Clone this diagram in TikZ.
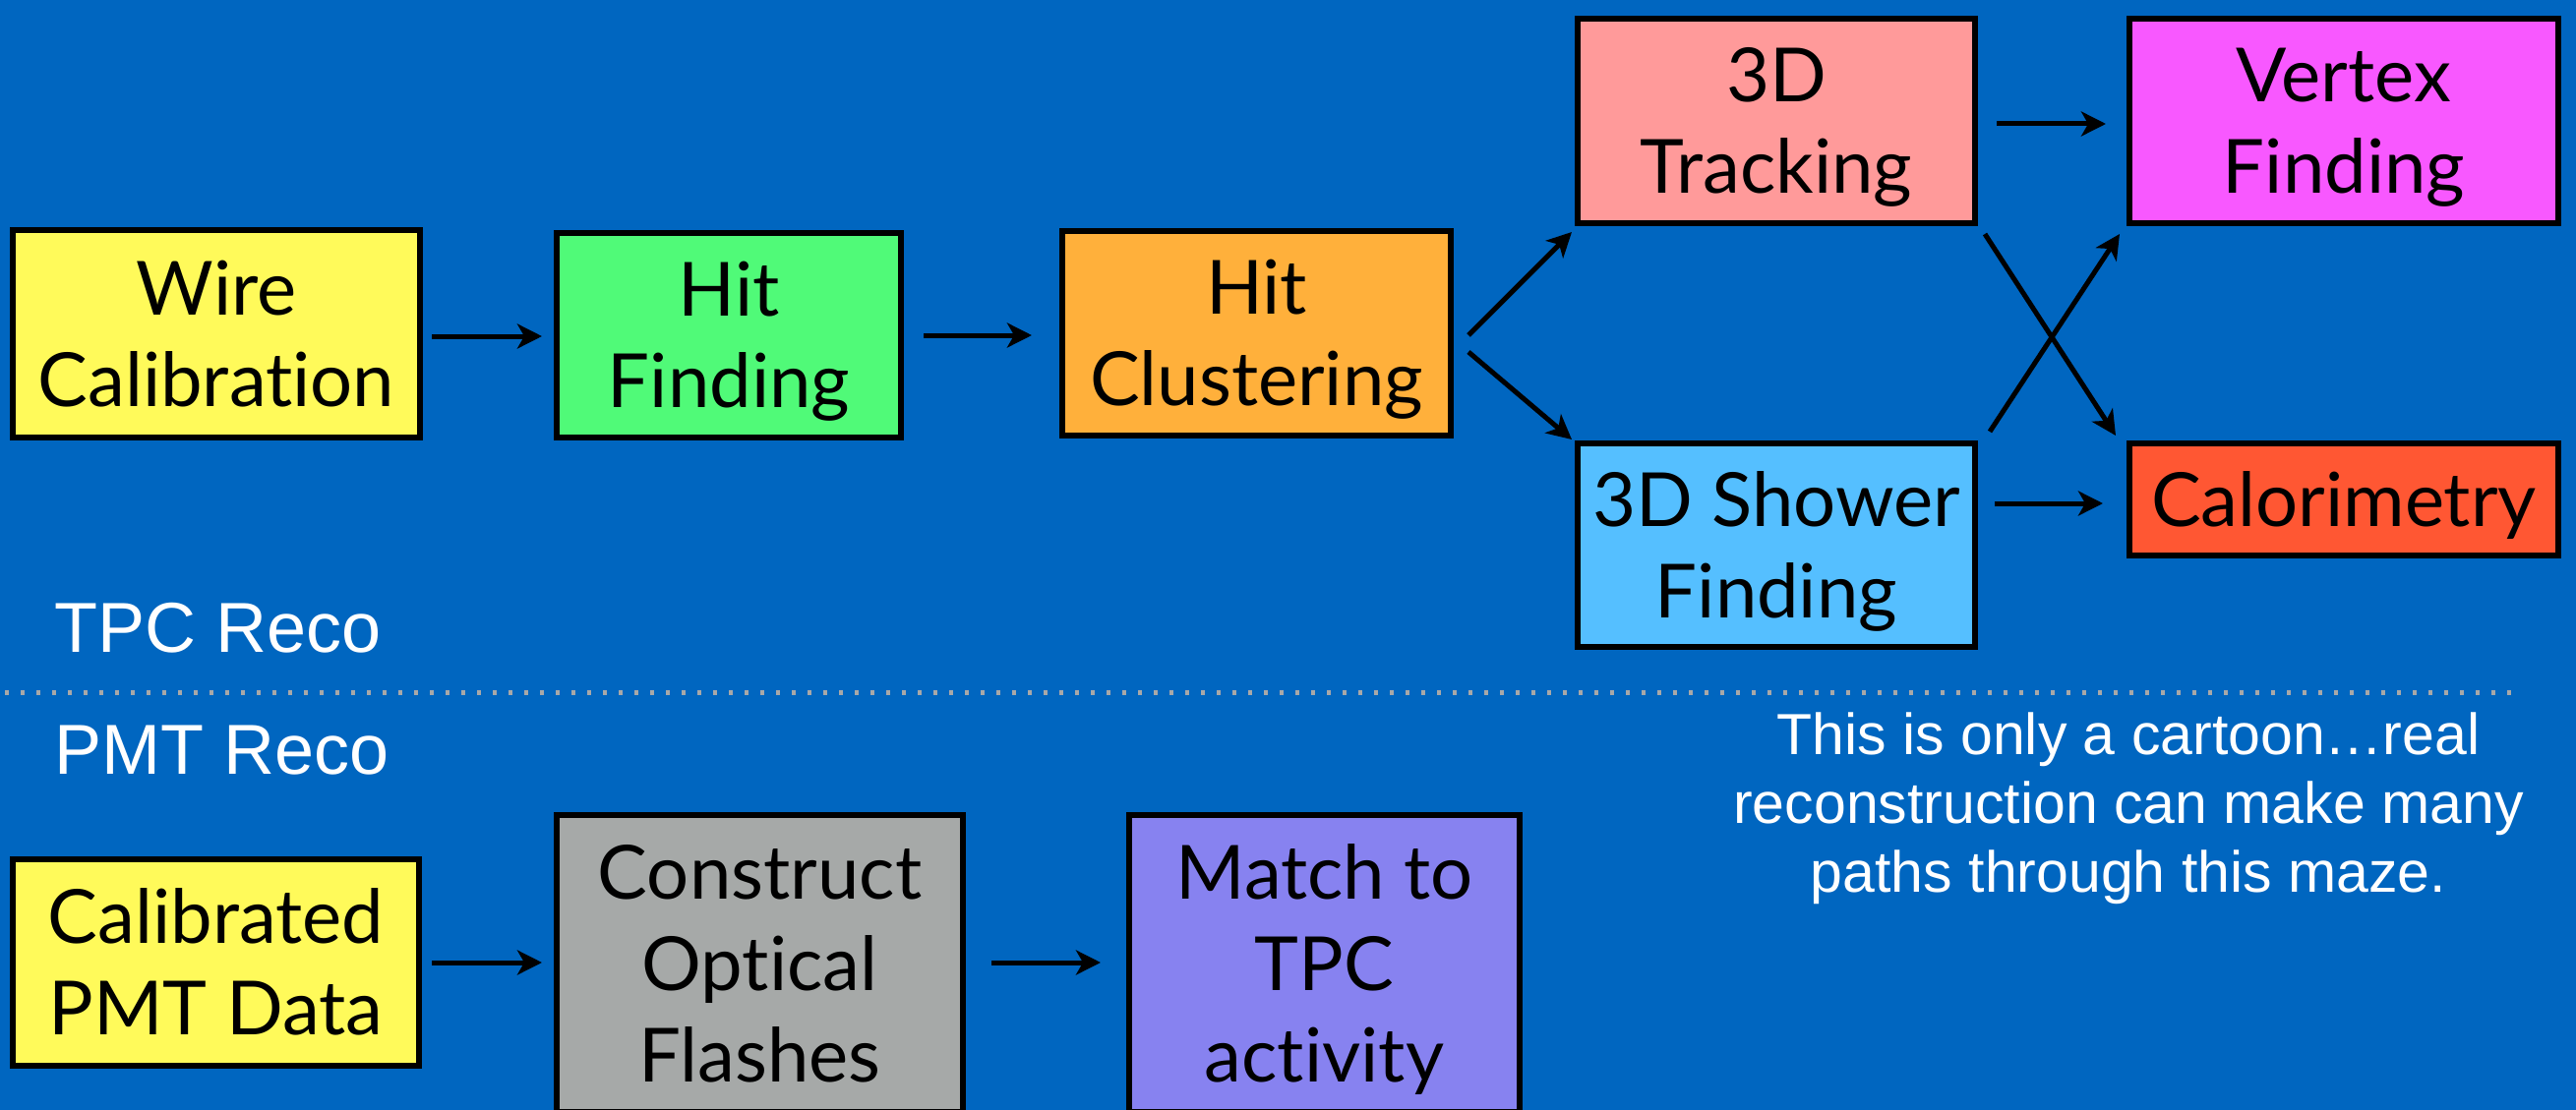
\documentclass[tikz,border=0pt]{standalone}
\usepackage{fontspec}
\setmainfont{Lato}[Ligatures={NoCommon,NoRare,NoContextual}]
\newfontfamily\wfont{Liberation Sans}
\usetikzlibrary{arrows.meta,calc}
\definecolor{bgblue}{HTML}{0066C0}
\definecolor{cyellow}{HTML}{FFFA5A}
\definecolor{cgreen}{HTML}{50FA78}
\definecolor{corange}{HTML}{FFB03B}
\definecolor{cpink}{HTML}{FF9A9A}
\definecolor{cmagenta}{HTML}{F858FF}
\definecolor{clblue}{HTML}{55BFFF}
\definecolor{cred}{HTML}{FF5733}
\definecolor{cgray}{HTML}{A6A9A8}
\definecolor{cpurple}{HTML}{8782F0}
\definecolor{dotgray}{HTML}{A8A8A8}
\newcommand{\tS}{\rule{0pt}{77pt}}
\newcommand{\bS}{\rule[-23pt]{0pt}{23pt}}
\begin{document}
\begin{tikzpicture}[x=1pt,y=-1pt,
  box/.style={draw=black,line width=6pt,inner sep=0pt,align=center,
    font=\fontsize{76}{93}\selectfont,text=black},
  arr/.style={line width=5pt,-{Stealth[length=25pt,width=25pt,inset=7pt]}},
  wtext/.style={text=white,inner sep=0pt}]
\fill[bgblue] (0,0) rectangle (2619,1129);
\useasboundingbox (0,0) rectangle (2619,1129);

% TPC row
\node[box,fill=cyellow,minimum width=414pt,minimum height=211pt] (wire) at (220,339.5) {\tS Wire\\Calibration\bS};
\node[box,fill=cgreen,minimum width=350pt,minimum height=208pt] (hitf) at (741,341) {\tS Hit\\Finding\bS};
\node[box,fill=corange,minimum width=395pt,minimum height=208pt] (hitc) at (1277.5,339) {\tS Hit\\Clustering\bS};
\node[box,fill=cpink,minimum width=404pt,minimum height=208pt] (trk) at (1806,123) {\tS 3D\\Tracking\bS};
\node[box,fill=cmagenta,minimum width=436pt,minimum height=208pt] (vtx) at (2383,123) {\tS Vertex\\Finding\bS};
\node[box,fill=clblue,minimum width=404pt,minimum height=207pt] (shw) at (1806,554.5) {\tS 3D Shower\\Finding\bS};
\node[box,fill=cred,minimum width=436pt,minimum height=114pt] (cal) at (2383,508) {\tS Calorimetry\bS};

% PMT row
\node[box,fill=cyellow,minimum width=413pt,minimum height=210pt] (cpd) at (219.5,979) {\tS Calibrated\\PMT Data\bS};
\node[box,fill=cgray,minimum width=413pt,minimum height=302pt] (cof) at (772.5,980) {\tS Construct\\Optical\\Flashes\bS};
\node[box,fill=cpurple,minimum width=397pt,minimum height=302pt] (mtc) at (1346.5,980) {\tS Match to\\TPC\\activity\bS};

% arrows
\draw[arr] ($(wire.east)+(9,2.5)$) -- ($(hitf.west)+(-12,1)$);
\draw[arr] ($(hitf.east)+(20,0)$) -- ($(hitc.west)+(-28,2)$);
\draw[arr] ($(hitc.east)+(15,2)$) -- ($(trk.south west)+(-3,6)$);
\draw[arr] ($(hitc.east)+(15,19)$) -- ($(shw.north west)+(-3,-1)$);
\draw[arr] ($(trk.east)+(19,3)$) -- ($(vtx.west)+(-21,3)$);
\draw[arr] ($(shw.east |- cal.west)+(17,4)$) -- ($(cal.west)+(-24,4)$);
\draw[arr] ($(trk.south east)+(7,8)$) -- ($(cal.north west)+(-11,-5)$);
\draw[arr] ($(shw.north east)+(12,-9)$) -- ($(vtx.south west)+(-7,8)$);
\draw[arr] ($(cpd.east)+(10,0)$) -- ($(cof.west)+(-12,-1)$);
\draw[arr] ($(cof.east)+(26,-1)$) -- ($(mtc.west)+(-26,-1)$);

% separator
\coordinate (sepL) at (5,704);
\coordinate (sepR) at (2553,704);
\draw[dotgray,line width=5pt,dash pattern=on 4pt off 12pt] (sepL) -- (sepR);

% labels
\node[wtext,anchor=base west,font=\wfont\fontsize{72}{86}\selectfont] (tpc) at (55,663) {TPC Reco};
\node[wtext,anchor=base west,font=\wfont\fontsize{72}{86}\selectfont] (pmt) at (55,787) {PMT Reco};
\node[wtext,align=center,font=\wfont\fontsize{59}{70}\selectfont] (note) at (2164,822) {This is only a cartoon…real\\reconstruction can make many\\paths through this maze.};
\end{tikzpicture}
\end{document}
